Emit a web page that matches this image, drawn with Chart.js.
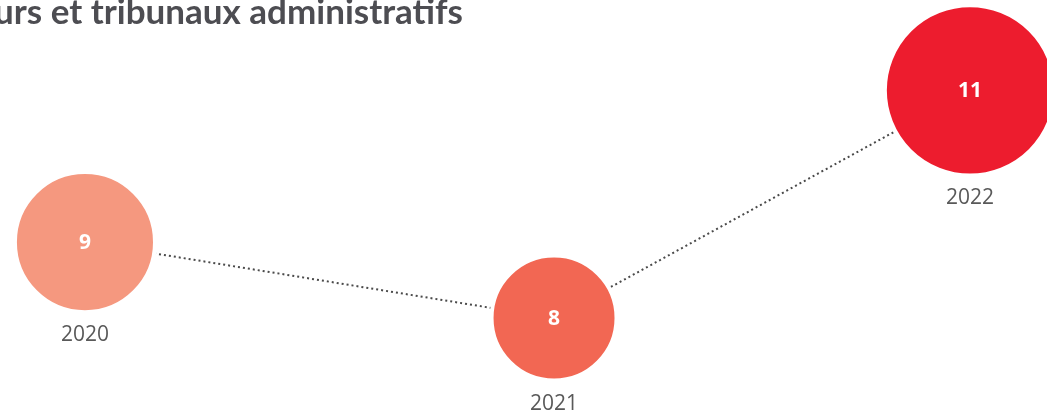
<!DOCTYPE html>
<html>
<head>
<meta charset="utf-8">
<script src="https://cdn.jsdelivr.net/npm/chart.js@4"></script>
<style>
  html, body { margin: 0; padding: 0; background: #ffffff; }
  #wrap { position: relative; width: 1047px; height: 416px; overflow: hidden; }
</style>
</head>
<body>
<div id="wrap"><canvas id="chart" width="1047" height="416"></canvas></div>
<script>
// ---- Data ----
const TITLE = 'Cours et tribunaux administratifs';
const years = ['2020', '2021', '2022'];
const values = [9, 8, 11];
const xPlace = [0, 1.06, 2];           // horizontal placement of each bubble
const bubbleColors = ['#F5987F', '#F26753', '#ED1C2E'];

const PX_PER_UNIT = 7.56;              // bubble radius per unit of value
const GAP = 4;                          // white ring around each bubble

const points = values.map((v, i) => ({ x: xPlace[i], y: v }));

// title drawn right-aligned so the start runs off the left edge, as in the picture
const titlePlugin = {
  id: 'clippedTitle',
  afterDraw(chart) {
    const ctx = chart.ctx;
    ctx.save();
    ctx.font = "bold 35px Lato, 'Open Sans', sans-serif";
    ctx.fillStyle = '#4D4D52';
    ctx.textAlign = 'right';
    ctx.textBaseline = 'alphabetic';
    ctx.fillText(TITLE, 463, 24);
    ctx.restore();
  }
};

// value inside and year under every bubble
const labelPlugin = {
  id: 'bubbleLabels',
  afterDatasetsDraw(chart) {
    const ctx = chart.ctx;
    const meta = chart.getDatasetMeta(0);
    ctx.save();
    ctx.textAlign = 'center';
    ctx.textBaseline = 'middle';
    meta.data.forEach((el, i) => {
      const r = values[i] * PX_PER_UNIT;
      ctx.font = "bold 21px 'Open Sans', sans-serif";
      ctx.fillStyle = '#ffffff';
      ctx.fillText(String(values[i]), el.x, el.y + 1);
      ctx.font = "21px 'Open Sans', sans-serif";
      ctx.fillStyle = '#595959';
      ctx.fillText(years[i], el.x, el.y + r + 25);
    });
    ctx.restore();
  }
};

new Chart(document.getElementById('chart'), {
  type: 'bubble',
  data: {
    datasets: [
      {
        type: 'bubble',
        data: points,
        backgroundColor: bubbleColors,
        borderColor: '#ffffff',
        borderWidth: GAP,
        radius: ctx => ctx.raw.y * PX_PER_UNIT + GAP / 2,
        hoverRadius: 0,
        clip: false,
        order: 0,
      },
      {
        type: 'line',
        data: points,
        borderColor: '#4a4a4a',
        borderWidth: 2,
        borderDash: [2, 3],
        pointRadius: 0,
        fill: false,
        tension: 0,
        order: 1,
      }
    ]
  },
  options: {
    responsive: false,
    animation: false,
    events: [],
    layout: { padding: 0, autoPadding: false },
    plugins: {
      legend: { display: false },
      tooltip: { enabled: false },
      title: { display: false }
    },
    scales: {
      x: { type: 'linear', display: false, min: -0.192, max: 2.174 },
      y: { type: 'linear', display: false, min: 6.71, max: 12.19 }
    }
  },
  plugins: [labelPlugin, titlePlugin]
});
</script>
</body>
</html>
